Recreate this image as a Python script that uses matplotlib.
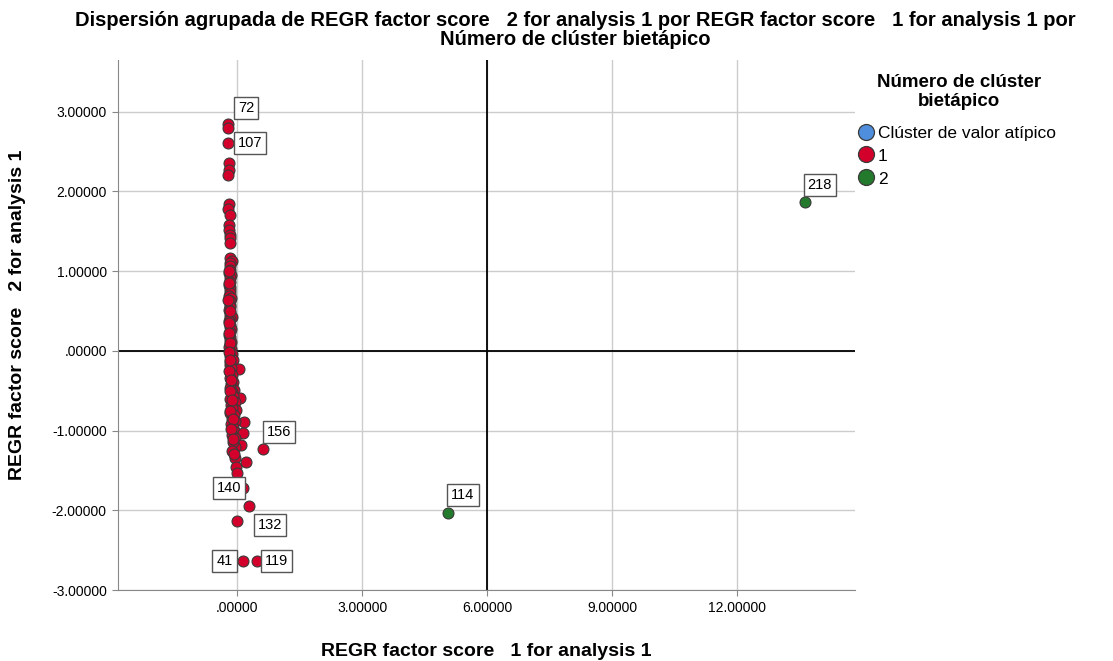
import numpy as np
import matplotlib
matplotlib.use("Agg")
import matplotlib.pyplot as plt
from matplotlib import font_manager as fm
from matplotlib.lines import Line2D

# --- data ---
# cluster 1 (red)
c1_x = [-0.22, -0.23, -0.22, -0.20, -0.20, -0.21, -0.20, -0.21, -0.18, -0.20,
        -0.20, -0.18, -0.17, -0.17, -0.17, -0.12, -0.18, -0.16, -0.17, -0.19,
        -0.15, -0.18, -0.17, -0.19, -0.16, -0.18, -0.17, -0.19, -0.15, -0.18,
        -0.16, -0.17, -0.19, -0.16, -0.18, -0.12, -0.17, -0.19, -0.16, -0.18,
        -0.15, -0.17, -0.19, -0.16, -0.18, -0.14, -0.17, -0.19, -0.15, -0.17,
        -0.13, -0.18, -0.10, -0.16, -0.18, 0.05, -0.14, -0.17, -0.12, -0.16,
        -0.10, -0.15, -0.08, -0.17, -0.13, 0.07, -0.10, -0.16, -0.06, -0.14,
        -0.03, -0.12, -0.16, -0.08, -0.13, 0.16, -0.05, -0.15, -0.10, -0.04,
        0.14, -0.12, -0.06, 0.09, -0.05, -0.10, 0.22, -0.06, -0.03, -0.01,
        0.14, 0.29, 0.00, 0.15, 0.47, 0.62, -0.20, -0.19, -0.21, -0.18,
        -0.20, -0.19, -0.18, -0.20, -0.17, -0.19, -0.15, -0.18, -0.13, -0.16,
        -0.11, -0.14, -0.09, -0.12, -0.08]
c1_y = [2.85, 2.80, 2.61, 2.36, 2.27, 2.21, 1.84, 1.78, 1.71, 1.58,
        1.52, 1.45, 1.42, 1.35, 1.17, 1.13, 1.10, 1.06, 1.02, 0.98,
        0.95, 0.91, 0.87, 0.83, 0.80, 0.76, 0.72, 0.69, 0.66, 0.62,
        0.58, 0.55, 0.51, 0.48, 0.44, 0.42, 0.40, 0.37, 0.33, 0.30,
        0.27, 0.24, 0.20, 0.17, 0.13, 0.11, 0.08, 0.05, 0.02, -0.01,
        -0.04, -0.07, -0.11, -0.14, -0.18, -0.23, -0.22, -0.27, -0.30, -0.34,
        -0.39, -0.42, -0.49, -0.46, -0.52, -0.59, -0.57, -0.61, -0.64, -0.68,
        -0.74, -0.72, -0.78, -0.81, -0.85, -0.89, -0.88, -0.92, -0.96, -1.02,
        -1.03, -1.06, -1.09, -1.18, -1.20, -1.14, -1.39, -1.34, -1.46, -1.53,
        -1.72, -1.95, -2.13, -2.64, -2.64, -1.23, 1.00, 0.85, 0.64, 0.50,
        0.35, 0.22, 0.10, -0.02, -0.12, -0.25, -0.37, -0.50, -0.62, -0.75,
        -0.86, -0.98, -1.10, -1.25, -1.29]
# cluster 2 (green)
c2_x = [13.63, 5.06]
c2_y = [1.87, -2.03]
# outlier cluster: no cases
c0_x = []
c0_y = []

# case labels: (text, x, y, offset in px)
lab_text = ["72", "107", "156", "140", "132", "41", "119", "218", "114"]
lab_x = [-0.22, -0.22, 0.62, 0.14, 0.29, 0.15, 0.47, 13.63, 5.06]
lab_y = [2.85, 2.61, -1.23, -1.72, -1.95, -2.64, -2.64, 1.87, -2.03]
lab_dx = [18, 22, 16, -14, 21, -19, 20, 15, 15]
lab_dy = [16, 0, 17, 0, -19, 0, 0, 17, 18]

x_ticks = [0, 3, 6, 9, 12]
y_ticks = [-3, -2, -1, 0, 1, 2, 3]

# --- fonts ---
names = {f.name for f in fm.fontManager.ttflist}
narrow = "Liberation Sans Narrow" if "Liberation Sans Narrow" in names else "Liberation Sans"
plt.rcParams["font.family"] = ["Liberation Sans", "DejaVu Sans"]

red = "#D3002B"
green = "#237A2C"
blue = "#4F8EDC"
edge = "#3a3a3a"

fig = plt.figure(figsize=(11.13, 6.61), dpi=100)
ax = fig.add_axes([0.106, 0.1074, 0.662, 0.802])

ax.scatter(c1_x, c1_y, s=62, color=red, edgecolor=edge, linewidth=0.8, zorder=3)
ax.scatter(c2_x, c2_y, s=62, color=green, edgecolor=edge, linewidth=0.8, zorder=3)

ax.set_xlim(-2.86, 14.83)
ax.set_ylim(-3.0, 3.65)
ax.set_xticks(x_ticks)
ax.set_yticks(y_ticks)
fmt = lambda v: ".00000" if v == 0 else f"{v:.5f}"
ax.set_xticklabels([fmt(v) for v in x_ticks], family=narrow, fontsize=10)
ax.set_yticklabels([fmt(v) for v in y_ticks], family=narrow, fontsize=10)
ax.grid(True, color="#cccccc", linewidth=1.0, zorder=0)
ax.set_axisbelow(True)
ax.axvline(6, color="black", linewidth=1.3, zorder=2)
ax.axhline(0, color="black", linewidth=1.3, zorder=2)

for s in ["top", "right"]:
    ax.spines[s].set_visible(False)
for s in ["left", "bottom"]:
    ax.spines[s].set_color("#888888")
ax.tick_params(length=4, color="#888888", pad=4)

ax.set_xlabel("REGR factor score   1 for analysis 1", fontsize=14, fontweight="bold", labelpad=20)
ax.set_ylabel("REGR factor score   2 for analysis 1", fontsize=14, fontweight="bold")
ax.yaxis.set_label_coords(-0.125, 0.52)

for t, x, y, dx, dy in zip(lab_text, lab_x, lab_y, lab_dx, lab_dy):
    ax.annotate(t, (x, y), xytext=(dx * 0.72, dy * 0.72), textcoords="offset points",
                ha="center", va="center", fontsize=10.5, family=narrow, zorder=5,
                bbox=dict(boxstyle="square,pad=0.28", fc="white", ec="#555555", lw=1.0))

fig.text(0.517, 0.984,
         "Dispersión agrupada de REGR factor score   2 for analysis 1 por REGR factor score   1 for analysis 1 por\n"
         "Número de clúster bietápico", ha="center", va="top", fontsize=14.5, fontweight="bold",
         family=[narrow, "DejaVu Sans"], linespacing=1.05)

# legend title as its own text, entries below
fig.text(0.862, 0.888, "Número de clúster\nbietápico", ha="center", va="top",
         fontsize=13.5, fontweight="bold", linespacing=1.15)
handles = [Line2D([], [], marker="o", linestyle="", markersize=11.5, markerfacecolor=c,
                  markeredgecolor=edge, markeredgewidth=0.9) for c in (blue, red, green)]
leg = fig.legend(handles, ["Clúster de valor atípico", "1", "2"], loc="center left",
                 bbox_to_anchor=(0.771, 1 - 156 / 661), frameon=False, handlelength=0.9,
                 handletextpad=0.25, labelspacing=0.45, borderaxespad=0, borderpad=0,
                 prop={"family": narrow, "size": 12.5})

fig.savefig("out.png", dpi=100)
